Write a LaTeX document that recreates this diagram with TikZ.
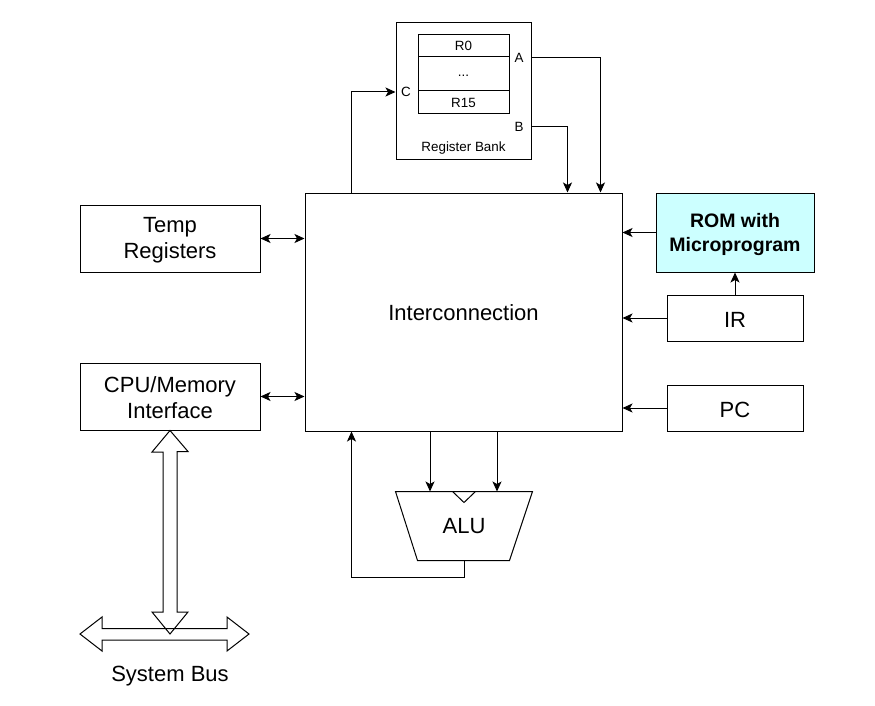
\documentclass[tikz,border=0pt]{standalone}
\usepackage{fontspec}
\setmainfont{Liberation Sans}
\usetikzlibrary{arrows.meta}
\begin{document}
\begin{tikzpicture}[x=1pt,y=-1pt,
  line width=1pt,
  box/.style={draw, rectangle, inner sep=0pt, align=center,
    font=\fontsize{22}{26}\selectfont},
  txt/.style={inner sep=0pt, align=center, font=\fontsize{22}{26}\selectfont},
  cell/.style={draw, rectangle, inner sep=0pt, minimum width=91pt,
    font=\fontsize{13.4}{16}\selectfont},
  small/.style={inner sep=0pt, font=\fontsize{13.4}{16}\selectfont},
  tip/.tip={Stealth[length=10pt,width=9pt,inset=2.5pt]},
  arr/.style={-tip},
  darr/.style={tip-tip},
  hollow/.style={draw, line join=miter}]
\useasboundingbox (0,0) rectangle (875,706);

% register bank
\node[box, minimum width=135pt, minimum height=136pt] (bank) at (463.5,91) {};
\node[cell, minimum height=22pt] (r0) at (463.5,46) {R0};
\node[cell, minimum height=34pt] (rdots) at (463.5,74) {};
\node[small] (dots) at (463.5,76) {...};
\node[cell, minimum height=23pt] (r15) at (463.5,102.5) {R15};
\node[small] (la) at (519,58) {A};
\node[small] (lb) at (519,127) {B};
\node[small] (lc) at (406,92) {C};
\node[small] (lbank) at (463.5,148) {Register Bank};

% main blocks
\node[box, minimum width=317pt, minimum height=238pt] (ic) at (463.5,312) {};
\node[txt] (iclabel) at (463.5,313) {Interconnection};
\node[box, minimum width=180pt, minimum height=67pt] (temp) at (170,238.5) {};
\node[txt] (templabel) at (170,240.5) {Temp\\Registers};
\node[box, minimum width=180pt, minimum height=67pt] (cpu) at (170,396.5) {};
\node[txt] (cpulabel) at (170,397.5) {CPU/Memory\\Interface};
\node[box, minimum width=158pt, minimum height=79pt, fill={rgb,255:red,204;green,255;blue,255}] (rom) at (735,232.5) {};
\node[txt, font=\fontsize{19.5}{24}\selectfont\bfseries] (romlabel) at (735,234.5) {ROM with\\Microprogram};
\node[box, minimum width=136pt, minimum height=46pt] (ir) at (735,318) {};
\node[txt] (irlabel) at (735,320) {IR};
\node[box, minimum width=136pt, minimum height=46pt] (pc) at (735,408) {};
\node[txt] (pclabel) at (735,409.5) {PC};

% ALU
\node[inner sep=0pt, minimum width=136pt, minimum height=68pt,
  font=\fontsize{22}{26}\selectfont] (alu) at (464,526) {ALU};
\draw[line join=miter] (alu.north west) -- (alu.north east) -- ([xshift=-23pt]alu.south east)
  -- ([xshift=22pt]alu.south west) -- cycle;
\draw ([xshift=-11.5pt]alu.north) -- ([yshift=-11pt]alu.north) -- ([xshift=11.5pt]alu.north);
\coordinate (alua) at ([xshift=-34pt]alu.north);
\coordinate (alub) at ([xshift=33pt]alu.north);

% connectors
\draw[arr] ([xshift=47pt]ic.north west) |- (bank.west |- lc);
\draw[arr] (bank.east |- la) -| ([xshift=-22pt]ic.north east);
\draw[arr] (bank.east |- lb) -| ([xshift=-55pt]ic.north east);
\draw[darr] (temp.east) -- (ic.west |- temp.east);
\draw[darr] (cpu.east) -- (ic.west |- cpu.east);
\draw[arr] (rom.west) -- (ic.east |- rom.west);
\draw[arr] (ir.west) -- (ic.east |- ir.west);
\draw[arr] (pc.west) -- (ic.east |- pc.west);
\draw[arr] (ir.north) -- (rom.south);
\draw[arr] (ic.south -| alua) -- (alua);
\draw[arr] (ic.south -| alub) -- (alub);
\draw[arr] (alu.south) -- ++(0,17) -| ([xshift=47pt]ic.south west);

% system bus
\coordinate (bus) at (170,634);
\node[txt] (buslabel) at (170,676) {System Bus};
\draw[hollow] (80,634) -- (102,617) -- (102,628.5) -- (227,628.5) -- (227,617) -- (249,634)
  -- (227,651) -- (227,640) -- (102,640) -- (102,651) -- cycle;
\draw[hollow] (cpu.south) -- ++(18,21) -- ++(-11,0) -- (177,612) -- (188,612) -- (bus)
  -- (152,612) -- (163,612) -- (163,452) -- (152,452) -- cycle;
\end{tikzpicture}
\end{document}
